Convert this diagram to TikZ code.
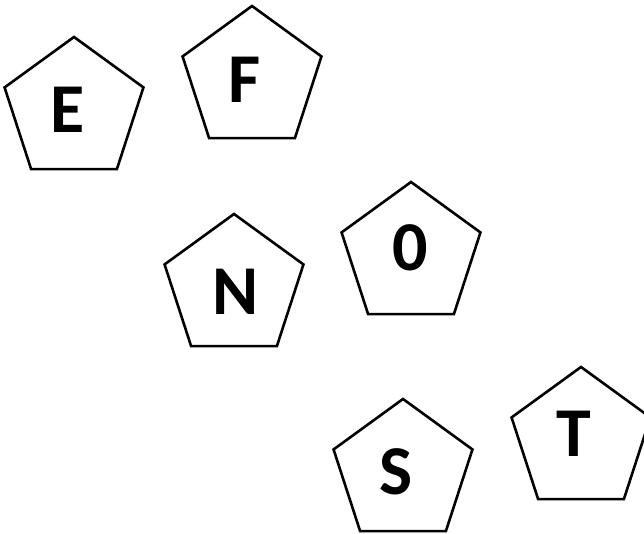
\documentclass[tikz,border=0pt]{standalone}
\usepackage{fontspec}
\setmainfont{Carlito}
\usepackage{tikz}
\usetikzlibrary{shapes.geometric}
\tikzset{
  pent/.style={regular polygon,regular polygon sides=5,draw=black,line width=2.6pt,minimum size=146pt,inner sep=0pt},
  letter/.style={font=\fontsize{70}{70}\selectfont\bfseries,inner sep=0pt,text depth=0pt}
}
\begin{document}
\begin{tikzpicture}[x=1pt,y=-1pt]
\useasboundingbox (0,0) rectangle (644,534);
% pentagons
\node[pent] (pe) at (74,110) {};
\node[pent] (pf) at (252,79) {};
\node[pent] (pn) at (234,287) {};
\node[pent] (po) at (411,255) {};
\node[pent] (ps) at (403,472) {};
\node[pent] (pt) at (581,440) {};
% letters
\node[letter] (le) at (68,110) {E};
\node[letter] (lf) at (245,80) {F};
\node[letter] (ln) at (236,292) {N};
\node[letter] (lo) at (410,248) {0};
\node[letter] (ls) at (396,472) {S};
\node[letter] (lt) at (574,434) {T};
\end{tikzpicture}
\end{document}
